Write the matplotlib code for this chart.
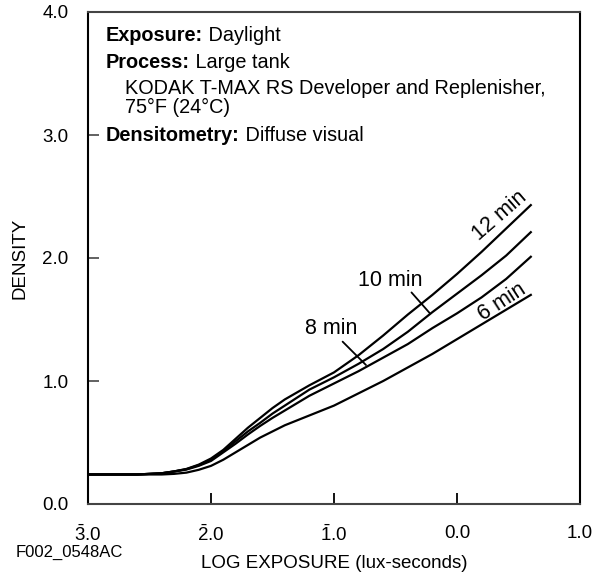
import matplotlib.pyplot as plt

plt.rcParams["font.family"] = ["Liberation Sans", "DejaVu Sans"]
plt.rcParams["mathtext.fontset"] = "custom"
plt.rcParams["mathtext.rm"] = "Liberation Sans"

# log exposure (lux-seconds) and density
log_e = [-3.0, -2.6, -2.5, -2.4, -2.3, -2.2, -2.1, -2.0, -1.9, -1.8, -1.7,
         -1.6, -1.5, -1.4, -1.2, -1.0, -0.8, -0.6, -0.4, -0.2, 0.0, 0.2, 0.4, 0.6]
d_12 = [0.24, 0.24, 0.245, 0.25, 0.265, 0.285, 0.32, 0.37, 0.44, 0.53, 0.62,
        0.70, 0.78, 0.85, 0.965, 1.07, 1.21, 1.37, 1.54, 1.70, 1.87, 2.05, 2.24, 2.43]
d_10 = [0.24, 0.24, 0.245, 0.25, 0.265, 0.283, 0.315, 0.36, 0.43, 0.51, 0.59,
        0.66, 0.735, 0.80, 0.93, 1.03, 1.14, 1.26, 1.40, 1.56, 1.71, 1.86, 2.02, 2.21]
d_8 = [0.24, 0.24, 0.245, 0.25, 0.264, 0.28, 0.31, 0.35, 0.42, 0.49, 0.565,
       0.635, 0.70, 0.76, 0.88, 0.98, 1.08, 1.19, 1.30, 1.43, 1.55, 1.68, 1.83, 2.01]
d_6 = [0.24, 0.24, 0.24, 0.24, 0.245, 0.255, 0.278, 0.31, 0.36, 0.42, 0.48,
       0.54, 0.59, 0.64, 0.72, 0.80, 0.90, 1.00, 1.11, 1.22, 1.34, 1.46, 1.58, 1.70]

x_ticks = [-3, -2, -1, 0, 1]
x_labels = [r"$\bar{\mathrm{3}}$.0", r"$\bar{\mathrm{2}}$.0", r"$\bar{\mathrm{1}}$.0", "0.0", "1.0"]
y_ticks = [0, 1, 2, 3, 4]
y_labels = ["0.0", "1.0", "2.0", "3.0", "4.0"]

# curve labels: text, position, rotation
inline_labels = [("12 min", (0.35, 2.34), 41), ("6 min", (0.37, 1.64), 33)]
leader_labels = [("10 min", (-0.54, 1.82), (-0.37, 1.72), (-0.22, 1.55)),
                 ("8 min", (-1.02, 1.43), (-0.93, 1.32), (-0.74, 1.13))]

fs = 14.3
fs_curve = 15.5

fig = plt.figure(figsize=(6.08, 5.76), dpi=100)
ax = fig.add_axes([88 / 608, 1 - 504 / 576, 492 / 608, 492 / 576])

for d in (d_12, d_10, d_8, d_6):
    ax.plot(log_e, d, color="black", lw=1.6, solid_joinstyle="round")

ax.set_xlim(-3, 1)
ax.set_ylim(0, 4)
ax.set_xticks(x_ticks, x_labels)
ax.set_yticks(y_ticks, y_labels)
ax.tick_params(axis="x", direction="in", length=8, width=1.3, color="black",
               labelsize=13.5, pad=15)
ax.tick_params(axis="y", direction="in", length=8, width=1.3, color="#555555",
               labelsize=13.5, pad=14)
for s in ax.spines.values():
    s.set_linewidth(1.5)
    s.set_color("#444444")
ax.spines["left"].set_color("black")
ax.spines["right"].set_color("black")

for text, pos, rot in inline_labels:
    ax.text(pos[0], pos[1], text, rotation=rot, ha="center", va="center",
            fontsize=fs_curve, rotation_mode="anchor")
for text, pos, start, end in leader_labels:
    ax.text(pos[0], pos[1], text, ha="center", va="center", fontsize=fs_curve)
    ax.annotate("", xy=end, xytext=start,
                arrowprops=dict(arrowstyle="-", lw=1.3, color="black",
                                shrinkA=0, shrinkB=0))

# conditions block
blocks = [("Exposure:", " Daylight", 0.0366, 41),
          ("Process:", " Large tank", 0.0366, 68),
          ("", "KODAK T-MAX RS Developer and Replenisher,", 0.075, 94),
          ("", "75\u00b0F (24\u00b0C)", 0.075, 113),
          ("Densitometry:", " Diffuse visual", 0.0366, 141)]
for bold, normal, x, y_px in blocks:
    y = (504 - y_px) / 492
    if bold:
        t = ax.text(x, y, bold, transform=ax.transAxes, fontsize=fs,
                    fontweight="bold", va="baseline")
        ax.annotate(normal, xy=(1, 0), xycoords=t, fontsize=fs,
                    va="bottom", ha="left")
    else:
        ax.text(x, y, normal, transform=ax.transAxes, fontsize=fs, va="baseline")

ax.set_xlabel("LOG EXPOSURE (lux-seconds)", fontsize=13.5)
ax.xaxis.set_label_coords(0.5, (504 - 555) / 492)
ax.set_ylabel("DENSITY", fontsize=13.5)
ax.yaxis.set_label_coords((29 - 88) / 492, 0.5)
fig.text(16 / 608, 1 - 552 / 576, "F002_0548AC", fontsize=12, va="center", ha="left")

fig.savefig("out.png", dpi=100)
